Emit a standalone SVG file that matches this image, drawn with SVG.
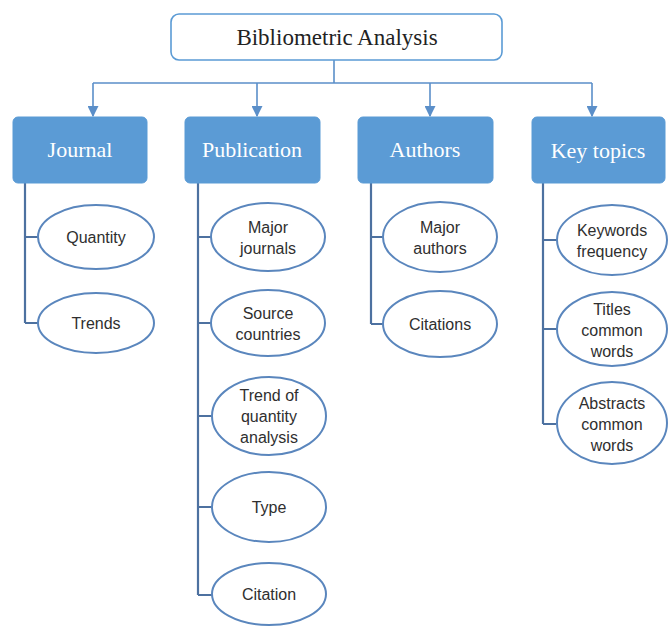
<svg xmlns="http://www.w3.org/2000/svg" width="668" height="626" viewBox="0 0 668 626">
<style>
.conn{stroke:#5b8fc9;stroke-width:1.6;fill:none}
.trunk{stroke:#4d71a0;stroke-width:2.2;fill:none}
.cat rect{fill:#5b9bd5;stroke:#5b9bd5}
.cat text{fill:#fff;font-family:"Liberation Serif","Times New Roman",serif;font-size:22px;text-anchor:middle}
.leaf ellipse{fill:#fff;stroke:#5a86bd;stroke-width:2}
.leaf text{fill:#2f2f2f;font-family:"Liberation Sans",Arial,sans-serif;font-size:16px;text-anchor:middle}
</style>
<defs>
<marker id="arr" viewBox="0 0 10 10" refX="9" refY="5" markerWidth="11" markerHeight="11" markerUnits="userSpaceOnUse" orient="auto">
<path d="M0,0 L10,5 L0,10 z" fill="#5b8fc9"/>
</marker>
</defs>
<rect width="668" height="626" fill="#fff"/>
<g id="connectors">
<path class="conn" d="M334,60 V83 M93,83 H592"/>
<path class="conn" d="M93,83 V116" marker-end="url(#arr)"/>
<path class="conn" d="M257,83 V116" marker-end="url(#arr)"/>
<path class="conn" d="M430,83 V116" marker-end="url(#arr)"/>
<path class="conn" d="M592,83 V116" marker-end="url(#arr)"/>
<path class="trunk" d="M25,183 V323 M25,237 H38 M25,323 H38"/>
<path class="trunk" d="M198,183 V595 M198,237 H211 M198,323 H211 M198,416 H212 M198,507 H212 M198,595 H212"/>
<path class="trunk" d="M371,183 V324 M371,237 H383 M371,324 H383"/>
<path class="trunk" d="M543,183 V424 M543,240 H557 M543,329 H557 M543,424 H556"/>
</g>
<g id="root">
<rect x="171" y="14" width="331" height="46" rx="8" fill="#fff" stroke="#5b9bd5" stroke-width="1.6"/>
<text x="337" y="45" font-family="'Liberation Serif','Times New Roman',serif" font-size="23" fill="#222" text-anchor="middle">Bibliometric Analysis</text>
</g>
<g id="journal" class="cat"><rect x="13" y="117" width="134" height="66" rx="5"/><text x="80" y="157">Journal</text></g>
<g id="publication" class="cat"><rect x="185" y="117" width="135" height="66" rx="5"/><text x="252" y="157">Publication</text></g>
<g id="authors" class="cat"><rect x="358" y="117" width="135" height="66" rx="5"/><text x="425" y="157">Authors</text></g>
<g id="keytopics" class="cat"><rect x="532" y="117" width="133" height="66" rx="5"/><text x="598" y="158">Key topics</text></g>
<g id="quantity" class="leaf"><ellipse cx="96" cy="237" rx="58" ry="32"/><text x="96" y="243">Quantity</text></g>
<g id="trends" class="leaf"><ellipse cx="96" cy="323" rx="58" ry="30"/><text x="96" y="329">Trends</text></g>
<g id="majorjournals" class="leaf"><ellipse cx="268" cy="237" rx="57" ry="34"/><text x="268" y="233">Major</text><text x="268" y="254">journals</text></g>
<g id="sourcecountries" class="leaf"><ellipse cx="268" cy="323" rx="57" ry="33"/><text x="268" y="319">Source</text><text x="268" y="340">countries</text></g>
<g id="trendquantity" class="leaf"><ellipse cx="269" cy="416" rx="57" ry="39"/><text x="269" y="401">Trend of</text><text x="269" y="422">quantity</text><text x="269" y="443">analysis</text></g>
<g id="type" class="leaf"><ellipse cx="269" cy="507" rx="57" ry="35"/><text x="269" y="513">Type</text></g>
<g id="citation" class="leaf"><ellipse cx="269" cy="594" rx="57" ry="31"/><text x="269" y="600">Citation</text></g>
<g id="majorauthors" class="leaf"><ellipse cx="440" cy="237" rx="57" ry="35"/><text x="440" y="233">Major</text><text x="440" y="254">authors</text></g>
<g id="citations" class="leaf"><ellipse cx="440" cy="324" rx="57" ry="33"/><text x="440" y="330">Citations</text></g>
<g id="keywords" class="leaf"><ellipse cx="612" cy="240" rx="55" ry="35"/><text x="612" y="236">Keywords</text><text x="612" y="257">frequency</text></g>
<g id="titles" class="leaf"><ellipse cx="612" cy="329" rx="55" ry="37"/><text x="612" y="315">Titles</text><text x="612" y="336">common</text><text x="612" y="357">words</text></g>
<g id="abstracts" class="leaf"><ellipse cx="612" cy="423" rx="55" ry="41"/><text x="612" y="409">Abstracts</text><text x="612" y="430">common</text><text x="612" y="451">words</text></g>
</svg>
